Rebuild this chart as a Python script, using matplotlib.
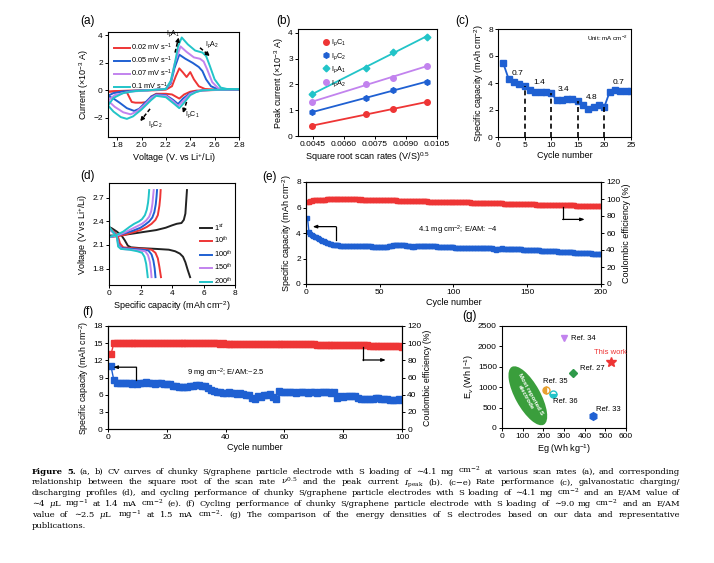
import numpy as np
import matplotlib
matplotlib.use("Agg")
import matplotlib.pyplot as plt
from matplotlib.patches import Ellipse
import matplotlib.transforms as mtransforms

plt.rcParams['font.family'] = ['Liberation Sans', 'DejaVu Sans']
plt.rcParams['mathtext.fontset'] = 'custom'
plt.rcParams['mathtext.rm'] = 'Liberation Sans'
plt.rcParams['mathtext.it'] = 'Liberation Sans:italic'
plt.rcParams['mathtext.bf'] = 'Liberation Sans:bold'
plt.rcParams['font.size'] = 6
plt.rcParams['axes.linewidth'] = 0.8
for a in ('xtick', 'ytick'):
    plt.rcParams[a + '.major.size'] = 2.2
    plt.rcParams[a + '.major.width'] = 0.7
    plt.rcParams[a + '.major.pad'] = 1.5
    plt.rcParams[a + '.labelsize'] = 6
plt.rcParams['axes.labelsize'] = 6.5
plt.rcParams['axes.labelpad'] = 1.5

RED = '#ee3535'
BLUE = '#1f60d2'
VIOLET = '#c283ee'
CYAN = '#22c4c8'

# ---------------- (a) CV curves ----------------
cv_labels = ['0.02 mV s$^{-1}$', '0.05 mV s$^{-1}$', '0.07 mV s$^{-1}$', '0.1 mV s$^{-1}$']
cv_colors = [RED, BLUE, VIOLET, CYAN]
cv_red_an_v = [1.725, 1.8, 1.9, 2.0, 2.1, 2.2, 2.25, 2.28, 2.31, 2.34, 2.37, 2.40, 2.43, 2.47, 2.52, 2.6, 2.7, 2.8]
cv_red_an_i = [-0.1, -0.05, -0.02, 0.0, 0.0, 0.05, 0.3, 1.0, 1.6, 1.3, 0.97, 1.33, 0.8, 0.3, 0.1, 0.06, 0.05, 0.05]
cv_red_ca_v = [2.8, 2.6, 2.45, 2.4, 2.35, 2.31, 2.28, 2.25, 2.2, 2.12, 2.08, 2.05, 2.0, 1.95, 1.92, 1.9, 1.88, 1.85, 1.8, 1.725]
cv_red_ca_i = [0.05, 0.02, -0.02, -0.1, -0.3, -0.6, -0.45, -0.3, -0.25, -0.25, -0.45, -0.85, -0.9, -0.9, -0.85, -0.5, -0.15, -0.06, -0.05, -0.1]
cv_blue_an_v = [1.725, 1.77, 1.85, 1.95, 2.05, 2.2, 2.24, 2.27, 2.31, 2.36, 2.42, 2.47, 2.5, 2.53, 2.57, 2.62, 2.7, 2.8]
cv_blue_an_i = [-0.4, -0.2, -0.08, -0.02, 0.0, 0.1, 0.5, 1.6, 2.6, 2.3, 2.0, 1.7, 1.4, 0.8, 0.3, 0.1, 0.08, 0.07]
cv_blue_ca_v = [2.8, 2.6, 2.5, 2.45, 2.4, 2.34, 2.3, 2.26, 2.2, 2.12, 2.08, 2.03, 1.98, 1.94, 1.88, 1.82, 1.77, 1.725]
cv_blue_ca_i = [0.06, 0.03, 0.0, -0.08, -0.2, -0.6, -1.0, -0.7, -0.35, -0.3, -0.45, -0.9, -1.35, -1.5, -1.3, -0.9, -0.6, -0.4]
cv_vio_an_v = [1.725, 1.78, 1.9, 2.05, 2.2, 2.24, 2.27, 2.32, 2.37, 2.43, 2.48, 2.51, 2.54, 2.58, 2.63, 2.7, 2.8]
cv_vio_an_i = [-0.75, -0.35, -0.1, 0.0, 0.1, 0.6, 1.9, 3.2, 2.8, 2.4, 2.3, 2.1, 1.5, 0.6, 0.15, 0.09, 0.08]
cv_vio_ca_v = [2.8, 2.6, 2.5, 2.45, 2.4, 2.34, 2.3, 2.26, 2.2, 2.12, 2.08, 2.02, 1.96, 1.91, 1.85, 1.78, 1.725]
cv_vio_ca_i = [0.07, 0.03, 0.0, -0.1, -0.25, -0.8, -1.15, -0.8, -0.4, -0.35, -0.55, -1.1, -1.55, -1.75, -1.6, -1.2, -0.75]
cv_cya_an_v = [1.725, 1.77, 1.85, 1.95, 2.05, 2.2, 2.24, 2.27, 2.3, 2.33, 2.38, 2.44, 2.5, 2.53, 2.56, 2.6, 2.65, 2.7, 2.8]
cv_cya_an_i = [-1.1, -0.55, -0.2, -0.05, 0.0, 0.1, 0.7, 1.8, 3.2, 3.85, 3.35, 2.9, 2.75, 2.5, 1.8, 0.8, 0.2, 0.1, 0.08]
cv_cya_ca_v = [2.8, 2.6, 2.5, 2.45, 2.4, 2.35, 2.31, 2.27, 2.2, 2.12, 2.08, 2.0, 1.93, 1.88, 1.83, 1.77, 1.725]
cv_cya_ca_i = [0.08, 0.04, 0.0, -0.12, -0.35, -0.9, -1.3, -1.0, -0.5, -0.4, -0.7, -1.4, -1.9, -2.08, -1.95, -1.55, -1.1]

# ---------------- (b) peak currents ----------------
sqrt_rate = [0.00447, 0.00707, 0.00837, 0.01]
ipc1 = [0.38, 0.87, 1.05, 1.30]
ipc2 = [0.92, 1.48, 1.77, 2.10]
ipa1 = [1.62, 2.65, 3.25, 3.85]
ipa2 = [1.33, 2.00, 2.25, 2.73]
peak_labels = ['I$_p$C$_1$', 'I$_p$C$_2$', 'I$_p$A$_1$', 'I$_p$A$_2$']

# ---------------- (c) rate performance ----------------
rate_cycle = list(range(1, 26))
rate_cap = [5.45, 4.3, 4.1, 3.9, 3.75, 3.5, 3.35, 3.35, 3.35, 3.25,
            2.75, 2.75, 2.8, 2.85, 2.65, 2.4, 2.1, 2.25, 2.35, 2.25,
            3.35, 3.45, 3.4, 3.4, 3.4]
rate_labels = ['0.7', '1.4', '3.4', '4.8', '0.7']
rate_label_x = [3.6, 7.8, 12.4, 17.6, 22.6]
rate_label_y = [4.7, 4.05, 3.55, 2.9, 4.05]
rate_breaks = [5, 10, 15, 20]

# ---------------- (d) charge/discharge profiles ----------------
gcd_labels = ['1$^{st}$', '10$^{th}$', '100$^{th}$', '150$^{th}$', '200$^{th}$']
gcd_colors = ['#222222', RED, BLUE, VIOLET, CYAN]
dis_cap = [
    [0, 0.2, 0.5, 0.8, 1.0, 1.2, 1.4, 2.0, 3.0, 3.8, 4.2, 4.5, 4.7, 4.85, 5.0, 5.15],
    [0, 0.3, 0.55, 0.7, 0.9, 1.5, 2.2, 2.7, 2.95, 3.1, 3.2, 3.3],
    [0, 0.3, 0.5, 0.62, 0.8, 1.5, 2.1, 2.5, 2.7, 2.82, 2.9, 2.95],
    [0, 0.3, 0.5, 0.6, 0.8, 1.4, 1.9, 2.3, 2.48, 2.6, 2.66, 2.7],
    [0, 0.02, 0.3, 0.5, 0.58, 0.75, 1.3, 1.8, 2.1, 2.25, 2.36, 2.42, 2.46],
]
dis_v = [
    [2.33, 2.31, 2.27, 2.22, 2.16, 2.09, 2.07, 2.06, 2.05, 2.04, 2.02, 1.99, 1.95, 1.88, 1.78, 1.69],
    [2.32, 2.27, 2.22, 2.12, 2.07, 2.06, 2.05, 2.04, 2.0, 1.93, 1.82, 1.69],
    [2.31, 2.26, 2.21, 2.1, 2.06, 2.05, 2.04, 2.03, 1.98, 1.9, 1.8, 1.69],
    [2.3, 2.25, 2.2, 2.09, 2.05, 2.04, 2.03, 2.02, 1.97, 1.88, 1.78, 1.69],
    [2.6, 2.33, 2.25, 2.2, 2.08, 2.05, 2.04, 2.02, 2.0, 1.95, 1.86, 1.76, 1.69],
]
chg_cap = [
    [0, 0.5, 1.0, 2.0, 3.0, 3.6, 4.0, 4.3, 4.6, 4.75, 4.85, 4.9, 4.95],
    [0, 0.5, 1.0, 1.5, 2.0, 2.4, 2.7, 2.95, 3.1, 3.2, 3.25, 3.28],
    [0, 0.5, 1.0, 1.5, 2.0, 2.3, 2.55, 2.75, 2.88, 2.97, 3.02, 3.05],
    [0, 0.5, 1.0, 1.4, 1.8, 2.1, 2.35, 2.55, 2.68, 2.76, 2.8, 2.84],
    [0, 0.5, 0.9, 1.3, 1.6, 1.9, 2.1, 2.28, 2.4, 2.48, 2.52, 2.55],
]
chg_v = [
    [2.22, 2.22, 2.23, 2.26, 2.29, 2.32, 2.35, 2.37, 2.38, 2.42, 2.5, 2.65, 2.8],
    [2.2, 2.21, 2.23, 2.26, 2.29, 2.33, 2.37, 2.42, 2.48, 2.6, 2.7, 2.8],
    [2.2, 2.22, 2.25, 2.28, 2.32, 2.36, 2.4, 2.45, 2.52, 2.62, 2.72, 2.8],
    [2.2, 2.22, 2.26, 2.3, 2.34, 2.37, 2.41, 2.46, 2.53, 2.63, 2.72, 2.8],
    [2.2, 2.23, 2.27, 2.33, 2.37, 2.4, 2.43, 2.48, 2.55, 2.64, 2.72, 2.8],
]

# ---------------- (e) cycling 4.1 mg cm-2 ----------------
cyc_e_cap = [5.20, 4.10, 3.95, 3.88, 3.80, 3.72, 3.65, 3.58, 3.52, 3.46,
             3.40, 3.35, 3.30, 3.25, 3.20, 3.16, 3.12, 3.09, 3.06, 3.04,
             3.03, 3.02, 3.01, 3.00, 3.00, 2.99, 3.00, 3.01, 3.00, 2.99,
             3.00, 3.01, 2.99, 3.00, 3.00, 2.98, 3.00, 3.01, 2.99, 3.00,
             2.98, 2.97, 2.96, 2.95, 2.94, 2.92, 2.90, 2.90, 2.89, 2.90,
             2.88, 2.89, 2.90, 2.92, 2.94, 2.96, 2.98, 3.00, 3.02, 3.03,
             3.04, 3.05, 3.06, 3.06, 3.05, 3.04, 3.02, 3.00, 2.98, 2.96,
             2.95, 2.94, 2.94, 2.95, 2.96, 2.97, 2.98, 2.99, 3.00, 3.00,
             3.01, 3.01, 3.00, 2.99, 2.98, 2.97, 2.96, 2.95, 2.94, 2.93,
             2.92, 2.91, 2.90, 2.90, 2.89, 2.88, 2.89, 2.88, 2.87, 2.87,
             2.86, 2.86, 2.85, 2.85, 2.86, 2.85, 2.84, 2.85, 2.86, 2.85,
             2.84, 2.85, 2.86, 2.85, 2.84, 2.83, 2.84, 2.85, 2.84, 2.83,
             2.84, 2.86, 2.85, 2.84, 2.82, 2.80, 2.75, 2.72, 2.70, 2.71,
             2.74, 2.77, 2.79, 2.78, 2.77, 2.76, 2.76, 2.75, 2.75, 2.74,
             2.74, 2.73, 2.73, 2.72, 2.72, 2.71, 2.70, 2.70, 2.69, 2.68,
             2.68, 2.67, 2.66, 2.66, 2.65, 2.64, 2.64, 2.63, 2.62, 2.62,
             2.61, 2.60, 2.60, 2.59, 2.58, 2.58, 2.57, 2.56, 2.56, 2.55,
             2.54, 2.54, 2.53, 2.52, 2.52, 2.51, 2.50, 2.50, 2.49, 2.48,
             2.48, 2.47, 2.46, 2.46, 2.45, 2.44, 2.44, 2.43, 2.42, 2.42,
             2.41, 2.40, 2.40, 2.39, 2.38, 2.38, 2.37, 2.36, 2.36, 2.35]
cyc_e_ce = [96.0, 97.0, 97.5, 98.0, 98.3, 98.6, 98.8, 99.0, 99.1, 99.2,
            99.3, 99.4, 99.4, 99.5, 99.5, 99.6, 99.6, 99.6, 99.7, 99.7,
            99.7, 99.8, 99.7, 99.8, 99.7, 99.7, 99.6, 99.7, 99.6, 99.6,
            99.6, 99.5, 99.6, 99.5, 99.5, 99.4, 99.5, 99.4, 99.4, 99.3,
            99.3, 99.2, 99.3, 99.2, 99.1, 99.1, 99.0, 99.1, 99.0, 98.9,
            98.9, 98.8, 98.8, 98.7, 98.6, 98.6, 98.5, 98.5, 98.4, 98.3,
            98.3, 98.2, 98.2, 98.1, 98.0, 98.0, 97.9, 97.9, 97.8, 97.7,
            97.7, 97.6, 97.6, 97.5, 97.5, 97.4, 97.3, 97.3, 97.2, 97.2,
            97.1, 97.1, 97.0, 97.0, 96.9, 96.9, 96.8, 96.8, 96.7, 96.7,
            96.6, 96.6, 96.5, 96.4, 96.2, 96.1, 96.3, 96.5, 96.5, 96.4,
            96.4, 96.3, 96.3, 96.2, 96.2, 96.1, 96.1, 96.0, 96.0, 95.9,
            95.9, 95.8, 95.8, 95.7, 95.7, 95.6, 95.6, 95.5, 95.5, 95.4,
            95.4, 95.3, 95.3, 95.2, 95.2, 95.1, 95.1, 95.0, 95.0, 94.9,
            94.9, 94.8, 94.8, 94.7, 94.7, 94.6, 94.5, 94.5, 94.4, 94.4,
            94.3, 94.3, 94.2, 94.2, 94.1, 94.0, 94.0, 93.9, 93.9, 93.8,
            93.8, 93.7, 93.7, 93.6, 93.6, 93.5, 93.5, 93.4, 93.4, 93.3,
            93.3, 93.2, 93.2, 93.1, 93.1, 93.0, 93.0, 92.9, 92.9, 92.8,
            92.8, 92.7, 92.7, 92.7, 92.6, 92.6, 92.5, 92.5, 92.5, 92.4,
            92.4, 92.4, 92.3, 92.3, 92.3, 92.2, 92.2, 92.2, 92.1, 92.1,
            92.1, 92.1, 92.0, 92.0, 92.0, 92.0, 91.9, 91.9, 91.9, 91.9]

# ---------------- (f) cycling 9 mg cm-2 ----------------
cyc_f_cap = [11.0, 8.5, 8.1, 8.0, 8.1, 8.0, 8.0, 7.9, 8.0, 7.9,
             8.0, 8.1, 8.2, 8.0, 8.0, 7.9, 8.1, 8.0, 7.8, 7.9,
             7.8, 7.6, 7.5, 7.4, 7.3, 7.3, 7.4, 7.6, 7.6, 7.7,
             7.7, 7.6, 7.5, 7.2, 6.9, 6.6, 6.5, 6.4, 6.3, 6.3,
             6.4, 6.3, 6.3, 6.2, 6.3, 6.1, 6.0, 6.0, 5.4, 5.2,
             5.8, 5.6, 5.9, 6.0, 6.2, 5.6, 5.2, 6.6, 6.5, 6.4,
             6.5, 6.4, 6.4, 6.3, 6.4, 6.5, 6.4, 6.3, 6.4, 6.4,
             6.3, 6.4, 6.5, 6.4, 6.4, 6.3, 6.4, 5.5, 5.7, 5.6,
             5.7, 5.8, 5.7, 5.8, 5.5, 5.3, 5.2, 5.3, 5.3, 5.2,
             5.4, 5.5, 5.3, 5.2, 5.2, 5.1, 5.0, 5.0, 5.2, 5.1]
cyc_f_ce = [87.0, 99.8, 100.0, 99.9, 100.1, 99.9, 100.0, 100.0, 99.9, 100.0,
            100.0, 99.9, 100.0, 100.1, 100.0, 99.9, 100.0, 99.9, 99.8, 99.9,
            100.0, 99.9, 99.8, 99.9, 99.8, 99.9, 99.8, 99.8, 99.9, 99.8,
            99.8, 99.7, 99.8, 99.7, 99.8, 99.7, 99.7, 99.6, 99.7, 99.6,
            99.6, 99.5, 99.6, 99.5, 99.5, 99.4, 99.5, 99.4, 99.4, 99.3,
            99.4, 99.3, 99.3, 99.2, 99.3, 99.2, 99.1, 99.2, 99.1, 99.0,
            99.0, 98.9, 98.9, 98.8, 98.8, 98.7, 98.7, 98.6, 98.5, 98.5,
            98.4, 98.4, 98.3, 98.2, 98.2, 98.1, 98.0, 98.0, 97.9, 97.8,
            97.8, 97.7, 97.6, 97.6, 97.5, 97.4, 97.3, 97.3, 97.2, 97.1,
            97.0, 96.9, 96.8, 96.7, 96.6, 96.5, 96.4, 96.3, 96.2, 96.1]

# ---------------- (g) energy densities ----------------
ref_names = ['Ref. 34', 'This work', 'Ref. 27', 'Ref. 35', 'Ref. 36', 'Ref. 33']
ref_eg = [302, 527, 344, 215, 247, 440]
ref_ev = [2215, 1612, 1344, 936, 830, 285]
ref_markers = ['v', '*', 'D', 'o', 'o', 'h']
ref_colors = [VIOLET, RED, '#2e9a4a', '#e8a030', CYAN, BLUE]
ref_text_x = [334, 522, 376, 200, 247, 456]
ref_text_y = [2200, 1860, 1466, 1140, 651, 448]

# ---------------- caption ----------------
CAPTION_LINES = [
    "**Figure **5. (a, b) CV curves of chunky S/graphene particle electrode with S loading of \u223c4.1 mg cm$^{-2}$ at various scan rates (a), and corresponding",
    "relationship between the square root of the scan rate $\\nu^{0.5}$ and the peak current $I_{\\mathrm{peak}}$ (b). (c\u2212e) Rate performance (c), galvanostatic charging/",
    "discharging profiles (d), and cycling performance of chunky S/graphene particle electrodes with S loading of \u223c4.1 mg cm$^{-2}$ and an E/AM value of",
    "\u223c4 $\\mu$L mg$^{-1}$ at 1.4 mA cm$^{-2}$ (e). (f) Cycling performance of chunky S/graphene particle electrode with S loading of \u223c9.0 mg cm$^{-2}$ and an E/AM",
    "value of \u223c2.5 $\\mu$L mg$^{-1}$ at 1.5 mA cm$^{-2}$. (g) The comparison of the energy densities of S electrodes based on our data and representative",
    "publications.",
]

W, H = 714, 563
fig = plt.figure(figsize=(W / 100, H / 100), dpi=100)


def add_ax(l, t, r, b):
    return fig.add_axes([l / W, 1 - b / H, (r - l) / W, (b - t) / H])


def plabel(x, y, s):
    fig.text(x / W, 1 - y / H, s, fontsize=8.5, va='center', ha='left')


def dashed_arrow(ax, x0, y0, x1, y1):
    fx = x0 + 0.7 * (x1 - x0)
    fy = y0 + 0.7 * (y1 - y0)
    ax.plot([x0, fx], [y0, fy], ls=(0, (2.5, 1.5)), color='k', lw=1.1)
    ax.annotate('', xy=(x1, y1), xytext=(fx, fy),
                arrowprops=dict(arrowstyle='-|>,head_length=0.35,head_width=0.18', color='k', lw=1.1,
                                shrinkA=0, shrinkB=0))


# (a)
ax = add_ax(108, 32, 239, 137)
cv_sets = [(cv_red_an_v, cv_red_an_i, cv_red_ca_v, cv_red_ca_i),
           (cv_blue_an_v, cv_blue_an_i, cv_blue_ca_v, cv_blue_ca_i),
           (cv_vio_an_v, cv_vio_an_i, cv_vio_ca_v, cv_vio_ca_i),
           (cv_cya_an_v, cv_cya_an_i, cv_cya_ca_v, cv_cya_ca_i)]
for (av, ai, cvv, cvi), c, lab in zip(cv_sets, cv_colors, cv_labels):
    ax.plot(av, ai, color=c, lw=1.4, label=lab)
    ax.plot(cvv, cvi, color=c, lw=1.4)
ax.set_xlim(1.725, 2.8)
ax.set_ylim(-3.4, 4.25)
ax.set_xticks([1.8, 2.0, 2.2, 2.4, 2.6, 2.8])
ax.set_yticks([-2, 0, 2, 4])
ax.set_xlabel('Voltage (V. vs Li$^{+}$/Li)')
ax.set_ylabel('Current (\u00d710$^{-3}$ A)')
ax.legend(loc='upper left', bbox_to_anchor=(0.01, 0.95), frameon=False, fontsize=5.3,
          handlelength=2.2, handletextpad=0.2, labelspacing=0.25, borderpad=0.1)
dashed_arrow(ax, 2.275, 2.75, 2.305, 3.85)
dashed_arrow(ax, 2.48, 3.1, 2.56, 2.5)
dashed_arrow(ax, 2.37, -0.85, 2.34, -1.65)
dashed_arrow(ax, 2.07, -1.35, 1.99, -2.25)
ax.text(2.26, 4.1, 'I$_p$A$_1$', fontsize=5, ha='center', va='center')
ax.text(2.58, 3.3, 'I$_p$A$_2$', fontsize=5, ha='center', va='center')
ax.text(2.42, -1.75, 'I$_p$C$_1$', fontsize=5, ha='center', va='center')
ax.text(2.11, -2.5, 'I$_p$C$_2$', fontsize=5, ha='center', va='center')
plabel(80, 21, '(a)')

# (b)
ax = add_ax(298, 29, 437, 136)
series_b = [ipc1, ipc2, ipa1, ipa2]
cols_b = [RED, BLUE, CYAN, VIOLET]
marks_b = ['o', 'h', 'D', 'o']
xs = np.array(sqrt_rate)
for ys, c, m, lab in zip(series_b, cols_b, marks_b, peak_labels):
    k, b0 = np.polyfit(xs, ys, 1)
    ax.plot(xs, k * xs + b0, color=c, lw=1.3)
    ax.plot(xs, ys, ls='none', marker=m, ms=4 if m != 'D' else 3.4, color=c,
            mec=c, mfc=c, label=lab)
ax.set_xlim(0.0038, 0.0105)
ax.set_ylim(0, 4.15)
ax.set_xticks([0.0045, 0.0060, 0.0075, 0.0090, 0.0105])
ax.set_xticklabels(['0.0045', '0.0060', '0.0075', '0.0090', '0.0105'])
ax.set_yticks([0, 1, 2, 3, 4])
ax.set_xlabel('Square root scan rates (V/S)$^{0.5}$')
ax.set_ylabel('Peak current (\u00d710$^{-3}$ A)')
ax.legend(loc='upper left', bbox_to_anchor=(0.14, 0.96), frameon=False, fontsize=5.3,
          handlelength=1.0, handletextpad=0.3, labelspacing=0.35, borderpad=0.1)
plabel(276, 21, '(b)')

# (c)
ax = add_ax(498, 29, 631, 137)
ax.plot(rate_cycle, rate_cap, color=BLUE, marker='s', ms=4.6, lw=1.3)
for cb in rate_breaks:
    ax.plot([cb, cb], [0, rate_cap[cb - 1]], color='k', ls=(0, (3, 2)), lw=1.2)
for s, x, y in zip(rate_labels, rate_label_x, rate_label_y):
    ax.text(x, y, s, fontsize=6, ha='center', va='center')
ax.text(20.5, 7.3, 'Unit: mA cm$^{-2}$', fontsize=4.5, ha='center', va='center')
ax.set_xlim(0, 25)
ax.set_ylim(0, 8)
ax.set_xticks([0, 5, 10, 15, 20, 25])
ax.set_yticks([0, 2, 4, 6, 8])
ax.set_xlabel('Cycle number')
ax.set_ylabel('Specific capacity (mAh cm$^{-2}$)')
plabel(455, 21, '(c)')

# (d)
ax = add_ax(109, 183, 235, 285)
for i in range(5):
    ax.plot(dis_cap[i], dis_v[i], color=gcd_colors[i], lw=1.4, label=gcd_labels[i])
    ax.plot(chg_cap[i], chg_v[i], color=gcd_colors[i], lw=1.4)
ax.set_xlim(0, 8)
ax.set_ylim(1.59, 2.89)
ax.set_xticks([0, 2, 4, 6, 8])
ax.set_yticks([1.8, 2.1, 2.4, 2.7])
ax.set_xlabel('Specific capacity (mAh cm$^{-2}$)')
ax.set_ylabel('Voltage (V vs Li$^{+}$/Li)')
ax.legend(loc='upper left', bbox_to_anchor=(0.69, 0.66), frameon=False, fontsize=5.3,
          handlelength=1.6, handletextpad=0.2, labelspacing=0.3, borderpad=0.1)
plabel(80, 176, '(d)')

# (e)
ax = add_ax(306, 182, 601, 284)
ax2 = ax.twinx()
cyc_e = list(range(1, len(cyc_e_cap) + 1))
ax.plot(cyc_e, cyc_e_cap, color=BLUE, marker='s', ms=3.4, lw=1.0)
ax2.plot(cyc_e, cyc_e_ce, color=RED, marker='s', ms=3.4, lw=1.0)
ax.set_xlim(0, 200)
ax.set_ylim(0, 8)
ax2.set_ylim(0, 120)
ax.set_xticks([0, 50, 100, 150, 200])
ax.set_yticks([0, 2, 4, 6, 8])
ax2.set_yticks([0, 20, 40, 60, 80, 100, 120])
ax.set_xlabel('Cycle number')
ax.set_ylabel('Specific capacity (mAh cm$^{-2}$)')
ax2.set_ylabel('Coulombic efficiency (%)')
ax.text(103, 4.2, '4.1 mg cm$^{-2}$; E/AM: ~4', fontsize=5.5, ha='center', va='center')
ax.plot([20.4, 20.4], [3.45, 4.5], color='k', lw=0.9)
ax.annotate('', xy=(4.5, 4.5), xytext=(20.4, 4.5),
            arrowprops=dict(arrowstyle='-|>,head_length=0.4,head_width=0.15', color='k', lw=0.9,
                            shrinkA=0, shrinkB=0))
ax2.plot([174, 174], [91, 76], color='k', lw=0.9)
ax2.annotate('', xy=(189, 76), xytext=(174, 76),
             arrowprops=dict(arrowstyle='-|>,head_length=0.4,head_width=0.15', color='k', lw=0.9,
                             shrinkA=0, shrinkB=0))
plabel(262, 177, '(e)')

# (f)
ax = add_ax(108, 326, 402, 429)
ax2 = ax.twinx()
cyc_f = list(range(1, len(cyc_f_cap) + 1))
ax.plot(cyc_f, cyc_f_cap, color=BLUE, marker='s', ms=4.0, lw=1.0)
ax2.plot(cyc_f, cyc_f_ce, color=RED, marker='s', ms=4.0, lw=1.0)
ax.set_xlim(0, 100)
ax.set_ylim(0, 18)
ax2.set_ylim(0, 120)
ax.set_xticks([0, 20, 40, 60, 80, 100])
ax.set_yticks([0, 3, 6, 9, 12, 15, 18])
ax2.set_yticks([0, 20, 40, 60, 80, 100, 120])
ax.set_xlabel('Cycle number')
ax.set_ylabel('Specific capacity (mAh cm$^{-2}$)', fontsize=6.3)
ax2.set_ylabel('Coulombic efficiency (%)', fontsize=6.3)
ax.text(40, 9.7, '9 mg cm$^{-2}$; E/AM:~2.5', fontsize=5.5, ha='center', va='center')
ax.plot([9.6, 9.6], [8.6, 10.8], color='k', lw=0.9)
ax.annotate('', xy=(1.8, 10.8), xytext=(9.6, 10.8),
            arrowprops=dict(arrowstyle='-|>,head_length=0.4,head_width=0.15', color='k', lw=0.9,
                            shrinkA=0, shrinkB=0))
ax2.plot([86.7, 86.7], [95, 80.4], color='k', lw=0.9)
ax2.annotate('', xy=(94.5, 80.4), xytext=(86.7, 80.4),
             arrowprops=dict(arrowstyle='-|>,head_length=0.4,head_width=0.15', color='k', lw=0.9,
                             shrinkA=0, shrinkB=0))
plabel(82, 312, '(f)')

# (g)
ax = add_ax(502, 326, 626, 428)
ax.set_xlim(0, 600)
ax.set_ylim(0, 2500)
ell_tr = fig.dpi_scale_trans + mtransforms.ScaledTranslation(125, 790, ax.transData)
ax.add_patch(Ellipse((0, 0), 0.66, 0.25, angle=-61, transform=ell_tr,
                     facecolor='#3a9e3c', edgecolor='none'))
ax.text(125, 790, 'Most reported S\nelectrode', color='white', fontsize=4.4, fontweight='bold',
        rotation=-61, ha='center', va='center', rotation_mode='anchor', linespacing=1.0)
for i in range(len(ref_names)):
    m = ref_markers[i]
    kw = dict(ls='none', marker=m, color=ref_colors[i], mec=ref_colors[i])
    ms = {'v': 5, '*': 7, 'D': 4, 'o': 5, 'h': 5.5}[m]
    if ref_names[i] in ('Ref. 35', 'Ref. 36'):
        kw.update(fillstyle='left' if ref_names[i] == 'Ref. 35' else 'bottom',
                  markerfacecoloralt='white')
    ax.plot([ref_eg[i]], [ref_ev[i]], ms=ms, **kw)
    tc = RED if ref_names[i] == 'This work' else 'k'
    ha = 'center' if ref_names[i] == 'This work' else 'left'
    ax.text(ref_text_x[i], ref_text_y[i], ref_names[i], fontsize=5.5, color=tc, ha=ha, va='center')
ax.set_xticks([0, 100, 200, 300, 400, 500, 600])
ax.set_yticks([0, 500, 1000, 1500, 2000, 2500])
ax.set_xlabel('Eg (Wh kg$^{-1}$)')
ax.set_ylabel('E$_v$ (Wh l$^{-1}$)')
plabel(462, 316, '(g)')

# caption with justified lines
CFS = 6.0
renderer = fig.canvas.get_renderer()
x_left, x_right = 32, 680
base_y = [473.5, 484.4, 495.3, 506.2, 517.1, 528.0]
for li, line in enumerate(CAPTION_LINES):
    words = line.split(' ')
    objs = []
    for w in words:
        bold = w.startswith('**')
        s = w[2:] if bold else w
        t = fig.text(0, 1 - base_y[li] / H, s, fontsize=CFS, family=['DejaVu Serif', 'DejaVu Sans'],
                     math_fontfamily='dejavuserif', fontweight='bold' if bold else 'normal',
                     va='baseline', ha='left')
        objs.append(t)
    widths = [t.get_window_extent(renderer).width for t in objs]
    if li < len(CAPTION_LINES) - 1 and len(objs) > 1:
        gap = (x_right - x_left - sum(widths)) / (len(objs) - 1)
    else:
        gap = 2.3
    x = x_left
    for t, wd in zip(objs, widths):
        t.set_x(x / W)
        x += wd + gap

fig.savefig('out.png', dpi=100)
